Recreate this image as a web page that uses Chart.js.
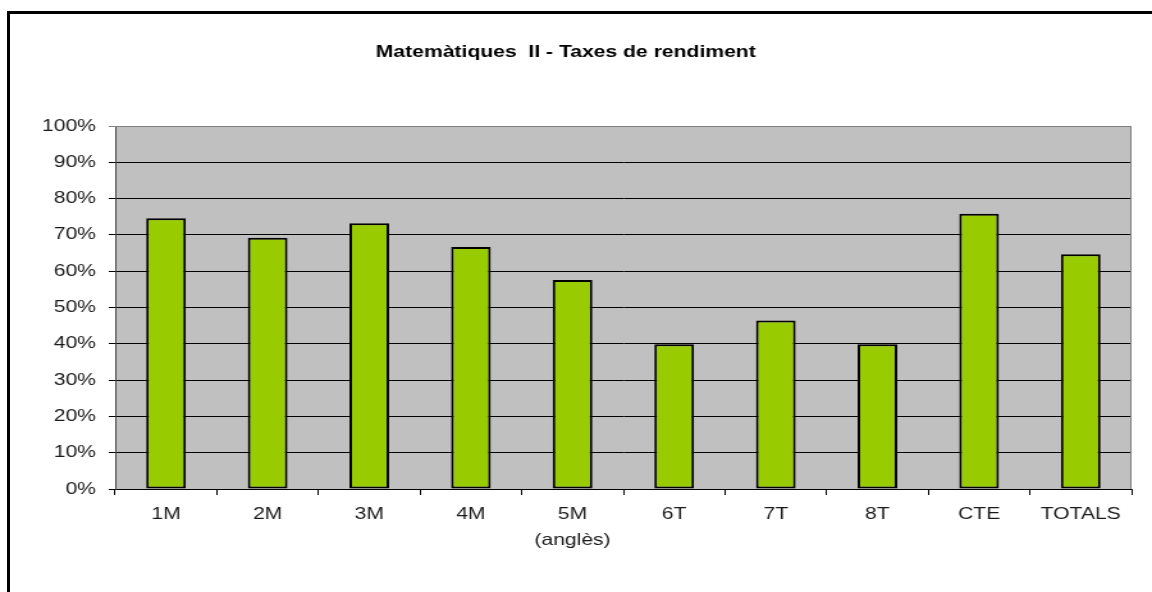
<!DOCTYPE html>
<html>
<head>
<meta charset="utf-8">
<script src="https://cdn.jsdelivr.net/npm/chart.js@4/dist/chart.umd.min.js"></script>
<style>
  html, body { margin: 0; padding: 0; background: #fff; overflow: hidden; width: 1152px; height: 592px; }
  #frame { position: absolute; left: 7px; top: 11px; width: 1300px; height: 700px; border-left: 3px solid #000; border-top: 3px solid #000; }
  #c { position: absolute; left: 0; top: 0; width: 1152px; height: 592px; }
</style>
</head>
<body>
<div id="frame"></div>
<canvas id="c" width="900" height="592" style="width:1152px;height:592px;"></canvas>
<script>
const titleText = 'Matemàtiques  II - Taxes de rendiment';
const categories = ['1M', '2M', '3M', '4M', ['5M', '(anglès)'], '6T', '7T', '8T', 'CTE', 'TOTALS'];
const rates = [74.6, 69.2, 73.2, 66.7, 57.6, 39.9, 46.4, 39.9, 75.8, 64.7];
const yTicks = [0, 10, 20, 30, 40, 50, 60, 70, 80, 90, 100];

const plotBg = {
  id: 'plotBg',
  beforeDraw(chart) {
    const { ctx, chartArea: a } = chart;
    ctx.save();
    ctx.fillStyle = '#C0C0C0';
    ctx.fillRect(a.left, a.top, a.right - a.left, a.bottom - a.top);
    ctx.restore();
  },
  afterDatasetsDraw(chart) {
    const { ctx, chartArea: a } = chart;
    ctx.save();
    ctx.strokeStyle = '#808080';
    ctx.lineWidth = 1;
    ctx.beginPath();
    ctx.moveTo(a.left, a.top + 0.5);
    ctx.lineTo(a.right - 0.5, a.top + 0.5);
    ctx.lineTo(a.right - 0.5, a.bottom);
    ctx.stroke();
    ctx.restore();
  }
};

Chart.defaults.font.family = '"Liberation Sans", Arial, sans-serif';

new Chart(document.getElementById('c'), {
  type: 'bar',
  data: {
    labels: categories,
    datasets: [{
      data: rates,
      backgroundColor: '#99CC00',
      borderColor: '#000000',
      borderWidth: 2,
      borderSkipped: false,
      barPercentage: 0.39,
      categoryPercentage: 1.0
    }]
  },
  options: {
    responsive: false,
    devicePixelRatio: 1,
    animation: false,
    layout: { padding: { left: 0, right: 16, top: 0, bottom: 0 } },
    plugins: {
      legend: { display: false },
      tooltip: { enabled: false },
      title: {
        display: true,
        text: titleText,
        color: '#000',
        font: { size: 16.5, weight: 'bold', lineHeight: 1.2 },
        padding: { top: 43, bottom: 63.2 }
      }
    },
    scales: {
      x: {
        offset: true,
        afterFit(scale) { scale.height = 103; },
        grid: {
          offset: true,
          drawOnChartArea: false,
          drawTicks: true,
          tickLength: 6,
          color: '#000'
        },
        border: { display: true, color: '#000', width: 1 },
        ticks: {
          color: '#1a1a1a',
          font: { size: 16.5, lineHeight: 1.6 },
          padding: 6,
          maxRotation: 0,
          autoSkip: false
        }
      },
      y: {
        min: 0,
        max: 100,
        afterFit(scale) { scale.width = 90; },
        afterBuildTicks(scale) { scale.ticks = yTicks.map(v => ({ value: v })); },
        grid: {
          color: ctx => (ctx.tick && ctx.tick.value === 100) ? '#808080' : '#000',
          lineWidth: 1,
          tickLength: 5,
          drawTicks: true
        },
        border: { display: true, color: '#404040', width: 1 },
        ticks: {
          color: '#1a1a1a',
          font: { size: 16.5 },
          padding: 10,
          callback: v => v + '%'
        }
      }
    }
  },
  plugins: [plotBg]
});
</script>
</body>
</html>
